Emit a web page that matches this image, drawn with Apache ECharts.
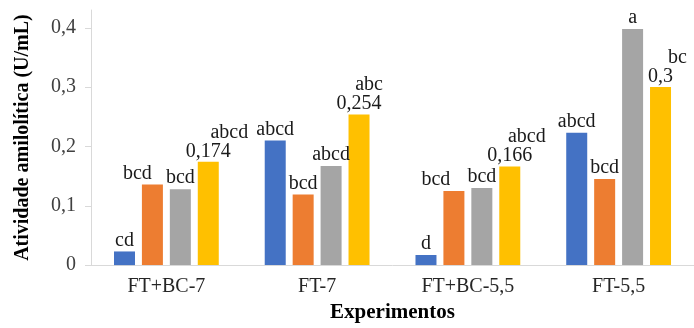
<!DOCTYPE html>
<html>
<head>
<meta charset="utf-8">
<script src="https://cdn.jsdelivr.net/npm/echarts@6/dist/echarts.min.js"></script>
<style>
  html, body { margin: 0; padding: 0; background: #ffffff; }
  #chart { width: 694px; height: 328px; }
</style>
</head>
<body>
<div id="chart"></div>
<script>
// Experiment groups on the x axis
const categories = ['FT+BC-7', 'FT-7', 'FT+BC-5,5', 'FT-5,5'];

// Amylolytic activity (U/mL), four bars per experiment
const blueValues   = [0.023, 0.210, 0.017, 0.223];
const orangeValues = [0.136, 0.119, 0.125, 0.145];
const greyValues   = [0.128, 0.167, 0.130, 0.398];
const yellowValues = [0.174, 0.254, 0.166, 0.300];

// Statistical grouping letters shown above each bar
const blueLetters   = ['cd', 'abcd', 'd', 'abcd'];
const orangeLetters = ['bcd', 'bcd', 'bcd', 'bcd'];
const greyLetters   = ['bcd', 'abcd', 'bcd', 'a'];
const yellowLetters = ['abcd', 'abc', 'abcd', 'bc'];

// Y axis tick labels
const yTicks = [0, 0.1, 0.2, 0.3, 0.4];

// Horizontal nudges for labels that would otherwise collide
const orangeLabelShift = [-15, 0, -18, 0];
const yellowLetterShift = [21, 10, 17, 17];

const serif = "'Liberation Serif', 'Times New Roman', serif";
const fmt = v => String(v).replace('.', ',');

const labelBase = {
  show: true,
  position: 'top',
  distance: 1,
  fontFamily: serif,
  fontSize: 20,
  color: '#1a1a1a'
};

function letterSeries(name, values, letters, color, shifts) {
  return {
    name: name,
    type: 'bar',
    barWidth: 21,
    barGap: '33%',
    itemStyle: { color: color },
    data: values.map((v, i) => ({
      value: v,
      label: Object.assign({}, labelBase, {
        formatter: letters[i],
        offset: [shifts ? shifts[i] : 0, 0]
      })
    }))
  };
}

const yellowSeries = {
  name: 'd',
  type: 'bar',
  barWidth: 21,
  barGap: '33%',
  itemStyle: { color: '#FFC000' },
  data: yellowValues.map((v, i) => ({
    value: v,
    label: Object.assign({}, labelBase, {
      formatter: '{l|' + yellowLetters[i] + '}\n{v|' + fmt(v) + '}',
      rich: {
        l: {
          fontFamily: serif, fontSize: 20, color: '#1a1a1a', lineHeight: 19,
          padding: [0, 0, 0, yellowLetterShift[i] * 2]
        },
        v: { fontFamily: serif, fontSize: 20, color: '#1a1a1a', lineHeight: 19 }
      }
    })
  }))
};

const chart = echarts.init(document.getElementById('chart'), null, { renderer: 'canvas' });
chart.setOption({
  animation: false,
  backgroundColor: '#ffffff',
  grid: { left: 91, right: -5, top: 10, bottom: 55, containLabel: false },
  xAxis: {
    type: 'category',
    data: categories,
    axisLine: { lineStyle: { color: '#d9d9d9', width: 1 } },
    axisTick: { show: false },
    axisLabel: { margin: 12, fontFamily: serif, fontSize: 20, color: '#262626' },
    name: 'Experimentos',
    nameLocation: 'middle',
    nameGap: 35,
    nameTextStyle: { fontFamily: serif, fontSize: 21, fontWeight: 'bold', color: '#000000' }
  },
  yAxis: {
    type: 'value',
    min: 0,
    max: 0.43,
    interval: 0.1,
    splitLine: { show: false },
    axisLine: { show: true, lineStyle: { color: '#d9d9d9', width: 1 } },
    axisTick: { show: true, length: 6, customValues: yTicks, lineStyle: { color: '#d9d9d9' } },
    axisLabel: {
      margin: 15,
      customValues: yTicks,
      fontFamily: serif,
      fontSize: 20,
      color: '#404040',
      formatter: v => fmt(Math.round(v * 10) / 10)
    },
    name: 'Atividade amilolítica (U/mL)',
    nameLocation: 'middle',
    nameRotate: 90,
    nameGap: 58,
    nameTextStyle: { fontFamily: serif, fontSize: 20, fontWeight: 'bold', color: '#000000' }
  },
  series: [
    letterSeries('a', blueValues, blueLetters, '#4472C4'),
    letterSeries('b', orangeValues, orangeLetters, '#ED7D31', orangeLabelShift),
    letterSeries('c', greyValues, greyLetters, '#A5A5A5'),
    yellowSeries
  ]
});
</script>
</body>
</html>
